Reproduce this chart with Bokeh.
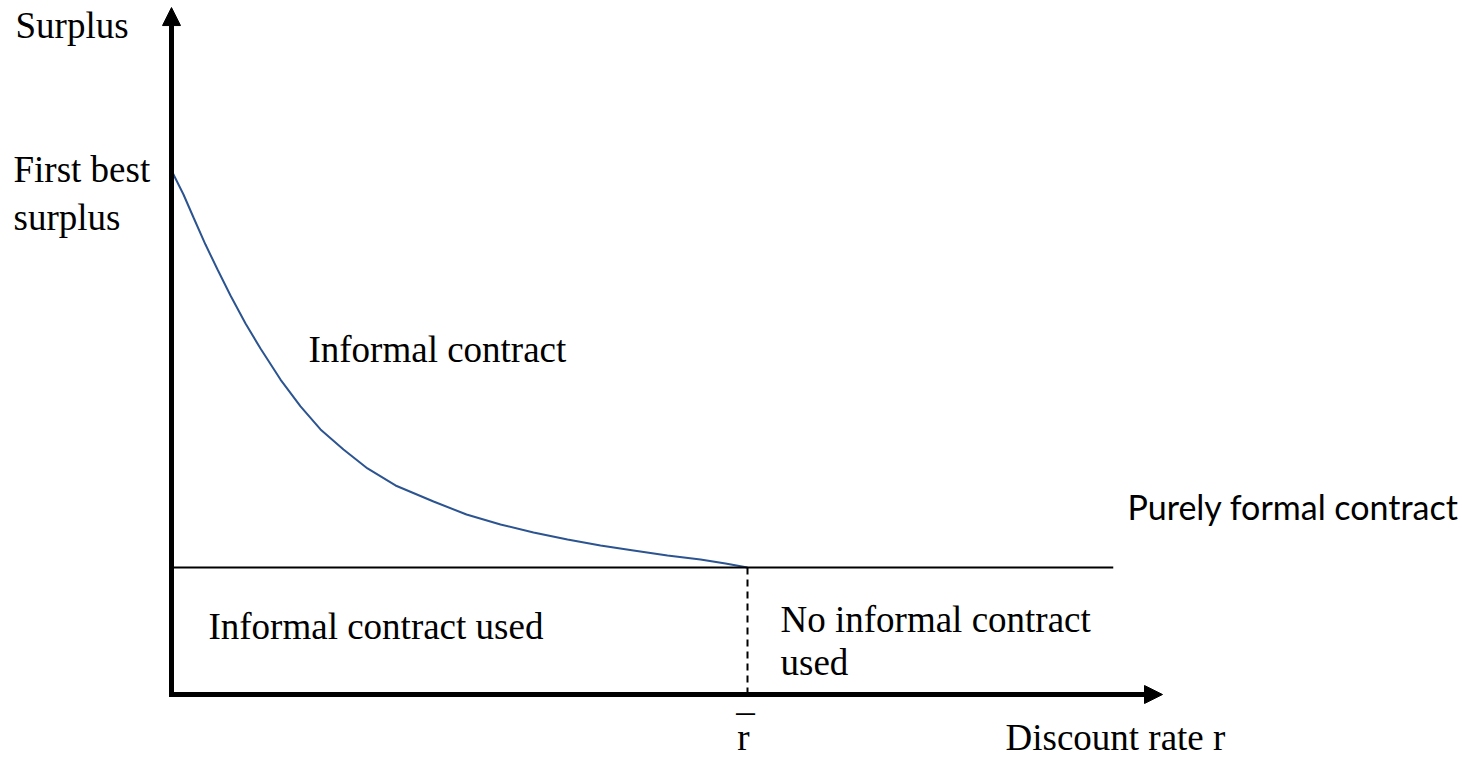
from bokeh.plotting import figure
from bokeh.models import Range1d, Arrow, NormalHead, Label
from bokeh.embed import file_html
from bokeh.resources import INLINE

# ---- data (schematic units: r_bar = 1, purely formal surplus = 1) ----
discount_rate = [0.0, 0.0208, 0.0382, 0.0590, 0.0799, 0.1024, 0.1285, 0.1545, 0.1892,
                 0.2240, 0.2587, 0.2986, 0.3403, 0.3889, 0.4549, 0.5122, 0.5712,
                 0.6285, 0.6875, 0.7448, 0.8021, 0.8611, 0.9184, 0.9618, 1.0]
informal_surplus = [4.126, 3.937, 3.756, 3.543, 3.346, 3.142, 2.921, 2.724, 2.480,
                    2.268, 2.087, 1.929, 1.780, 1.646, 1.520, 1.417, 1.339,
                    1.276, 1.220, 1.173, 1.134, 1.094, 1.063, 1.031, 1.0]
formal_surplus = 1.0
r_bar = 1.0
formal_line_end = 1.635
x_axis_end = 1.7205
y_axis_end = 5.409

SERIF = "Liberation Serif"
SANS = "Lato"
DY = 0.087  # baseline correction for label placement

p = figure(width=1462, height=763, output_backend="svg", toolbar_location=None,
           x_axis_type=None, y_axis_type=None,
           x_range=Range1d(-0.296875, 2.241319), y_range=Range1d(-0.543307, 5.464567),
           min_border=0, min_border_left=0, min_border_right=0,
           min_border_top=0, min_border_bottom=0)
p.outline_line_color = None
p.grid.visible = False
p.background_fill_color = "white"

# informal contract curve
p.line(discount_rate, informal_surplus, line_color="#2B5490", line_width=2)

# purely formal contract level
p.line([0, formal_line_end], [formal_surplus, formal_surplus], line_color="black", line_width=2)

# dashed r-bar line
p.line([r_bar, r_bar], [0, formal_surplus], line_color="black", line_width=2, line_dash="7 5")

# axes with arrows
p.add_layout(Arrow(end=NormalHead(size=18, fill_color="black", line_color="black"),
                   x_start=0, y_start=-0.02, x_end=0, y_end=y_axis_end,
                   line_width=5, line_color="black"))
p.add_layout(Arrow(end=NormalHead(size=18, fill_color="black", line_color="black"),
                   x_start=-0.0043, y_start=0, x_end=x_axis_end, y_end=0,
                   line_width=5, line_color="black"))

def lab(x, y, t, font=SERIF, size="37px", align="left", dy=DY):
    p.add_layout(Label(x=x, y=y + dy, text=t, text_font=font, text_font_size=size,
                       text_color="black", text_align=align, text_baseline="alphabetic"))

lab(-0.2708, 5.181, "Surplus")
lab(-0.2743, 4.047, "First best")
lab(-0.2743, 3.669, "surplus")
lab(0.2378, 2.630, "Informal contract")
lab(0.0642, 0.449, "Informal contract used")
lab(1.0573, 0.504, "No informal contract")
lab(1.0573, 0.165, "used")
lab(1.4479, -0.425, "Discount rate r")
lab(0.993, -0.425, "r", align="center")
lab(0.9965, -0.2756, "\u00af", align="center", dy=0.0)
lab(1.6597, 1.394, "Purely formal contract", font=SANS, size="34px")

open("out.html", "w").write(file_html(p, INLINE))
